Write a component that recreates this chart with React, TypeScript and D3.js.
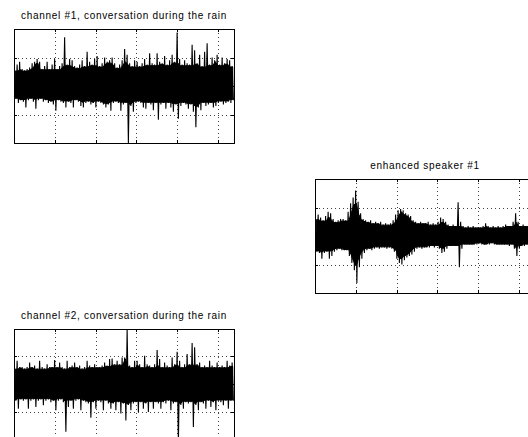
import React from 'react';
import * as d3 from 'd3';

// x axis: samples (x 10^4), y axis: amplitude
const X_MAX = 5.39;
const X_TICKS = [1, 2, 3, 4, 5];
const Y_TICKS = [-1, 0, 1];

// per-column peak / trough envelopes (88 columns each)
const ch1Hi = [
  0.55, 0.75, 0.85, 0.6, 0.55, 0.6, 0.65, 0.8, 0.85, 0.95,
  0.85, 0.6, 0.7, 0.85, 0.6, 0.75, 0.95, 0.6, 0.7, 0.8,
  1.71, 0.75, 0.95, 0.9, 0.7, 0.65, 0.75, 0.9, 0.7, 1.2,
  0.85, 0.75, 0.95, 1.05, 0.7, 0.8, 1.0, 0.85, 0.9, 1.0,
  0.8, 0.65, 0.75, 0.9, 1.3, 1.1, 0.8, 0.7, 0.9, 0.85,
  0.7, 0.8, 0.95, 0.75, 1.15, 0.8, 0.75, 1.15, 0.85, 0.8,
  1.05, 0.75, 0.9, 1.1, 0.85, 1.88, 0.95, 0.75, 0.9, 0.8,
  0.75, 1.45, 1.25, 0.8, 1.1, 0.7, 1.2, 1.5, 0.75, 1.0,
  0.9, 1.1, 0.75, 1.0, 0.8, 0.95, 0.9, 0.7,
];
const ch1Lo = [
  -0.45, -0.6, -0.5, -0.55, -0.75, -0.5, -0.45, -0.55, -0.8, -0.5,
  -0.45, -0.55, -0.5, -0.6, -0.55, -0.65, -0.87, -0.5, -0.55, -0.6,
  -0.75, -0.55, -0.6, -0.75, -0.5, -0.55, -0.7, -0.75, -0.6, -0.55,
  -0.65, -0.6, -0.75, -0.55, -0.6, -0.65, -0.75, -0.65, -0.87, -0.6,
  -0.55, -0.6, -0.87, -0.65, -0.6, -2.0, -0.7, -0.9, -0.6, -0.55,
  -0.6, -0.75, -0.8, -0.6, -0.65, -0.85, -0.6, -1.18, -0.65, -0.6,
  -0.8, -0.6, -0.75, -0.9, -0.65, -1.15, -0.7, -0.6, -0.65, -0.8,
  -0.65, -0.9, -1.45, -0.75, -0.85, -0.6, -0.7, -0.65, -0.6, -0.75,
  -0.7, -0.6, -0.55, -0.65, -0.6, -0.55, -0.6, -0.5,
];

const enhHi = [
  0.6, 0.75, 0.65, 0.55, 0.7, 0.85, 0.8, 0.6, 0.5, 0.55,
  0.6, 0.6, 0.55, 0.85, 1.15, 1.35, 1.6, 1.2, 0.8, 0.6,
  0.55, 0.5, 0.55, 0.45, 0.5, 0.45, 0.5, 0.4, 0.45, 0.4,
  0.45, 0.55, 0.75, 0.9, 0.95, 0.9, 0.8, 0.75, 0.7, 0.55,
  0.5, 0.45, 0.5, 0.45, 0.45, 0.5, 0.4, 0.45, 0.4, 0.5,
  0.65, 0.6, 0.5, 0.4, 0.35, 0.4, 0.35, 1.18, 0.5, 0.35,
  0.3, 0.35, 0.3, 0.35, 0.3, 0.3, 0.3, 0.35, 0.45, 0.35,
  0.3, 0.35, 0.3, 0.35, 0.3, 0.35, 0.4, 0.35, 0.35, 0.5,
  0.8, 0.5, 0.35, 0.4, 0.35, 0.35, 0.35, 0.35,
];
const enhLo = [
  -0.55, -0.6, -0.8, -0.6, -0.55, -0.8, -0.7, -0.55, -0.5, -0.45,
  -0.5, -0.5, -0.5, -0.7, -0.95, -1.2, -1.65, -1.1, -0.8, -0.6,
  -0.5, -0.45, -0.5, -0.45, -0.4, -0.45, -0.4, -0.4, -0.45, -0.4,
  -0.45, -0.55, -0.8, -0.95, -1.0, -0.85, -0.75, -0.7, -0.65, -0.55,
  -0.45, -0.4, -0.45, -0.4, -0.4, -0.4, -0.35, -0.4, -0.35, -0.45,
  -0.6, -0.55, -0.45, -0.35, -0.35, -0.35, -0.35, -1.1, -0.45, -0.3,
  -0.3, -0.3, -0.3, -0.3, -0.3, -0.25, -0.3, -0.3, -0.3, -0.3,
  -0.25, -0.3, -0.3, -0.3, -0.3, -0.3, -0.3, -0.35, -0.3, -0.45,
  -0.7, -0.45, -0.35, -0.35, -0.3, -0.3, -0.3, -0.3,
];

const ch2Hi = [
  0.55, 0.82, 0.6, 0.6, 0.55, 0.6, 0.76, 0.6, 0.65, 0.55,
  0.82, 0.6, 0.55, 0.7, 0.6, 0.6, 0.85, 0.6, 0.76, 0.6,
  0.55, 0.82, 0.6, 0.65, 0.76, 0.6, 0.65, 0.55, 0.6, 0.82,
  0.65, 0.6, 0.7, 0.6, 0.6, 0.65, 0.76, 0.65, 0.88, 0.9,
  0.7, 0.82, 0.7, 0.94, 0.94, 1.94, 0.65, 0.6, 0.82, 0.82,
  0.7, 0.6, 1.0, 0.7, 0.65, 0.6, 0.7, 1.2, 0.88, 0.6,
  0.76, 0.65, 0.6, 0.94, 0.7, 1.14, 0.82, 0.6, 0.7, 1.06,
  0.7, 1.45, 1.3, 0.7, 0.76, 0.6, 0.65, 0.6, 0.82, 0.65,
  0.6, 0.76, 0.6, 0.65, 0.6, 0.82, 0.65, 0.76,
];
const ch2Lo = [
  -0.6, -0.88, -0.55, -0.6, -0.55, -0.88, -0.6, -0.55, -0.82, -0.6,
  -0.55, -0.76, -0.6, -0.55, -0.65, -0.6, -0.94, -0.6, -0.55, -0.65,
  -1.7, -0.82, -0.6, -0.88, -0.6, -0.55, -0.94, -0.6, -0.65, -0.7,
  -1.2, -0.65, -0.88, -0.6, -0.65, -0.94, -0.6, -0.7, -0.88, -0.7,
  -0.94, -0.65, -1.05, -0.7, -1.3, -0.75, -0.94, -0.7, -0.65, -1.0,
  -0.65, -0.88, -0.7, -1.0, -0.65, -0.88, -0.65, -0.7, -0.88, -0.65,
  -0.7, -0.6, -0.94, -0.7, -0.65, -2.1, -0.75, -0.88, -0.65, -0.7,
  -0.65, -1.53, -0.75, -0.94, -0.65, -0.7, -0.88, -0.6, -0.82, -0.65,
  -0.94, -0.6, -0.65, -0.76, -0.6, -0.88, -0.6, -0.6,
];

const W = 220;
const H = 114;

function SignalPanel({ id, left, top, title, hi, lo, yDomain }: {
  id: string; left: number; top: number; title: string;
  hi: number[]; lo: number[]; yDomain: [number, number];
}) {
  const x = d3.scaleLinear([0, X_MAX], [left, left + W]);
  const y = d3.scaleLinear(yDomain, [top + H, top]);
  const step = X_MAX / hi.length;
  const pts: [number, number][] = [];
  hi.forEach((h, i) => {
    pts.push([(i + 0.25) * step, h]);
    pts.push([(i + 0.75) * step, lo[i]]);
  });
  // solid core: where the neighbouring columns all overlap
  const win = (arr: number[], i: number, f: (a: number[]) => number) =>
    f(arr.slice(Math.max(0, i - 1), i + 2));
  const core = hi.map((_, i) => ({
    t: (i + 0.5) * step,
    top: win(hi, i, a => d3.min(a)!) * 0.95,
    bot: win(lo, i, a => d3.max(a)!) * 0.95,
  }));
  const area = d3.area<{ t: number; top: number; bot: number }>()
    .x(d => x(d.t)).y0(d => y(d.bot)).y1(d => y(d.top));
  const line = d3.line<[number, number]>().x(d => x(d[0])).y(d => y(d[1]));
  const px = (v: number) => Math.round(v) + 0.5;
  const tick = 3;
  return (
    <g>
      <defs>
        <clipPath id={id}>
          <rect x={left} y={top} width={W} height={H} />
        </clipPath>
      </defs>
      <text x={left + W / 2} y={top - 10.5} textAnchor="middle" fontFamily="'Liberation Sans', Arial, sans-serif"
        fontSize={10} letterSpacing={0.7} fill="#000">{title}</text>
      <g stroke="#444" strokeWidth={1} strokeDasharray="1,3">
        {X_TICKS.map(t => <line key={'gx' + t} x1={px(x(t))} x2={px(x(t))} y1={top} y2={top + H} />)}
        {Y_TICKS.map(t => <line key={'gy' + t} x1={left} x2={left + W} y1={px(y(t))} y2={px(y(t))} />)}
      </g>
      <g clipPath={`url(#${id})`}>
        <path d={area(core) ?? ''} fill="#000" stroke="#000" strokeWidth={1} />
        <path d={line(pts) ?? ''} fill="none" stroke="#000" strokeWidth={1.1} />
      </g>
      <g stroke="#000" strokeWidth={1}>
        {X_TICKS.map(t => (
          <g key={'tx' + t}>
            <line x1={px(x(t))} x2={px(x(t))} y1={top + H} y2={top + H - tick} />
            <line x1={px(x(t))} x2={px(x(t))} y1={top} y2={top + tick} />
          </g>
        ))}
        {Y_TICKS.map(t => (
          <g key={'ty' + t}>
            <line x1={left} x2={left + tick} y1={px(y(t))} y2={px(y(t))} />
            <line x1={left + W} x2={left + W - tick} y1={px(y(t))} y2={px(y(t))} />
          </g>
        ))}
      </g>
      <rect x={left + 0.5} y={top + 0.5} width={W} height={H} fill="none" stroke="#000" strokeWidth={1} />
    </g>
  );
}

export default function App() {
  return (
    <svg width={528} height={437} style={{ position: 'absolute', left: 0, top: 0, background: '#fff' }}>
      <rect width={528} height={437} fill="#fff" />
      <SignalPanel id="c1" left={14} top={29} title="channel #1, conversation during the rain"
        hi={ch1Hi} lo={ch1Lo} yDomain={[-2, 2]} />
      <SignalPanel id="c2" left={315} top={179} title="enhanced speaker #1"
        hi={enhHi} lo={enhLo} yDomain={[-2, 2]} />
      <SignalPanel id="c3" left={14} top={329} title="channel #2, conversation during the rain"
        hi={ch2Hi} lo={ch2Lo} yDomain={[-2.1, 1.95]} />
    </svg>
  );
}
